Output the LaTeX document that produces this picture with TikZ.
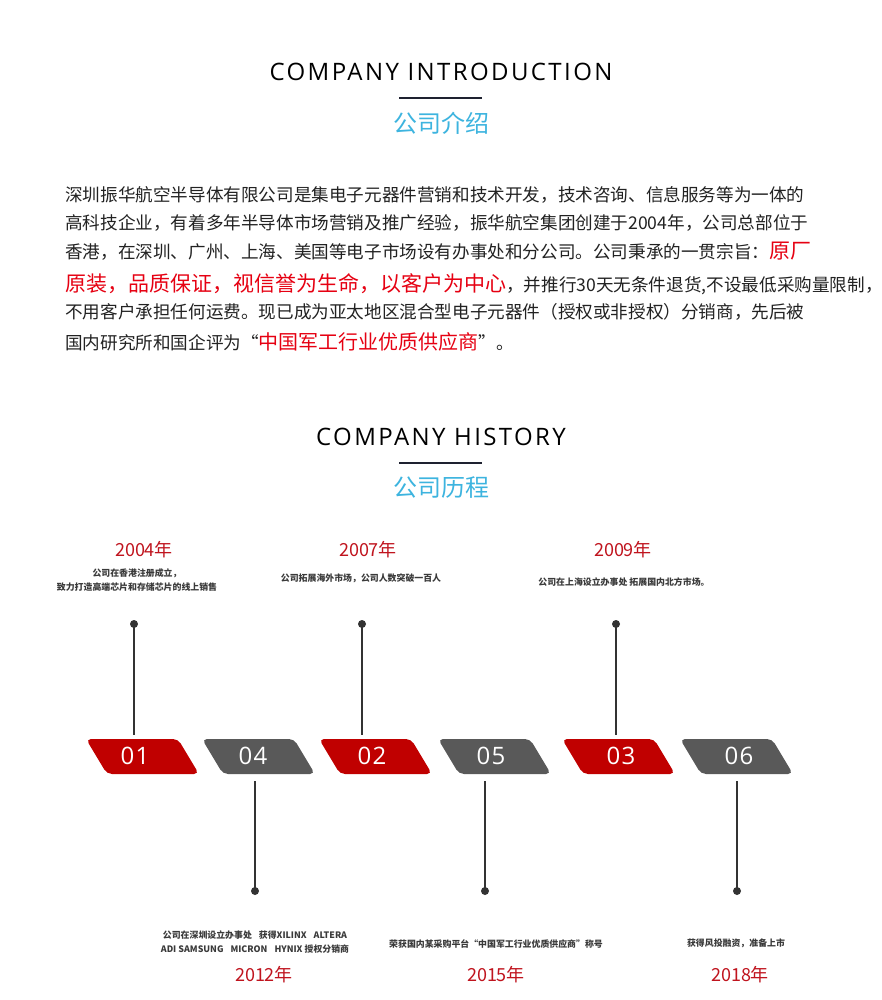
\documentclass[tikz,border=0pt]{standalone}
\usepackage{fontspec}
\setmainfont{Noto Sans CJK SC}
\newfontfamily\osans[LetterSpace=5]{Open Sans}
\newfontfamily\titlefont[LetterSpace=10]{Open Sans}
\definecolor{shred}{HTML}{C00000}
\definecolor{shgray}{HTML}{595959}
\definecolor{yred}{HTML}{C0141E}
\definecolor{pred}{HTML}{E60012}
\definecolor{tcyan}{HTML}{3DB4DF}
\definecolor{txt}{HTML}{222222}
\definecolor{navy}{HTML}{1E2130}
\definecolor{lnk}{HTML}{333333}
\definecolor{small}{HTML}{3A3A3A}
\newcommand{\pr}[2]{\textcolor{pred}{\fontsize{#1}{#1}\selectfont #2}}
\tikzset{
  title/.style={inner sep=0, font=\titlefont\fontsize{24}{24}\selectfont, text=black},
  sub/.style={inner sep=0, font=\fontsize{24}{24}\selectfont, text=tcyan},
  bar/.style={draw=navy, line width=2pt},
  para/.style={inner sep=0, anchor=base west, font=\fontsize{17.6}{20}\selectfont, text=txt},
  yr/.style={inner sep=0, font=\fontsize{18}{18}\selectfont, text=yred},
  note/.style={inner sep=0, font=\bfseries\fontsize{8.9}{14}\selectfont, text=small, align=center},
  num/.style={inner sep=0, font=\osans\fontsize{24}{24}\selectfont, text=white},
  dot/.style={circle, fill=lnk, inner sep=0, minimum size=8pt},
  conn/.style={draw=lnk, line width=1.8pt},
}
\newcommand{\tab}[2]{\fill[#2] (#1,739) [rounded corners=5pt] -- (#1+92,739) -- (#1+113,774) -- (#1+21,774) -- cycle;}
\begin{document}
\begin{tikzpicture}[x=1pt,y=-1pt]
\useasboundingbox (0,0) rectangle (881,1000);
\fill[white] (0,0) rectangle (881,1000);

% Introduction header
\node[title] (t1) at (441,72) {COMPANY INTRODUCTION};
\draw[bar] (399,98) -- (482,98);
\node[sub] (s1) at (441,123) {公司介绍};

% Paragraph
\node[para] (p1) at (65,201.7) {深圳振华航空半导体有限公司是集电子元器件营销和技术开发，技术咨询、信息服务等为一体的};
\node[para] (p2) at (65,229.7) {高科技企业，有着多年半导体市场营销及推广经验，振华航空集团创建于2004年，公司总部位于};
\node[para] (p3) at (65,258.7) {香港，在深圳、广州、上海、美国等电子市场设有办事处和分公司。公司秉承的一贯宗旨：\pr{21}{原厂}};
\node[para] (p4) at (65,291) {\pr{21}{原装，品质保证，视信誉为生命，以客户为中心}，并推行30天无条件退货,不设最低采购量限制，};
\node[para] (p5) at (65,318.7) {不用客户承担任何运费。现已成为亚太地区混合型电子元器件（授权或非授权）分销商，先后被};
\node[para] (p6) at (65,349.6) {国内研究所和国企评为“\pr{20}{中国军工行业优质供应商}”。};

% History header
\node[title] (t2) at (441,437) {COMPANY HISTORY};
\draw[bar] (399,463) -- (482,463);
\node[sub] (s2) at (441,488) {公司历程};

% Top events
\node[yr] (y1) at (144,550) {2004年};
\node[note] (n1) at (137,580) {公司在香港注册成立，\\致力打造高端芯片和存储芯片的线上销售};
\node[yr] (y2) at (368,550) {2007年};
\node[note] (n2) at (361,578) {公司拓展海外市场，公司人数突破一百人};
\node[yr] (y3) at (623,550) {2009年};
\node[note] (n3) at (624,582) {公司在上海设立办事处 拓展国内北方市场。};

% Tabs
\tab{86}{shred}
\tab{202}{shgray}
\tab{319}{shred}
\tab{438}{shgray}
\tab{562}{shred}
\tab{680}{shgray}
\node[num] (k1) at (135,756) {01};
\node[num] (k4) at (253,756) {04};
\node[num] (k2) at (372,756) {02};
\node[num] (k5) at (491,756) {05};
\node[num] (k3) at (621,756) {03};
\node[num] (k6) at (739,756) {06};

% Connectors top
\node[dot] (d1) at (134,624) {};
\node[dot] (d2) at (362,624) {};
\node[dot] (d3) at (616,624) {};
\coordinate (e1) at (134,735);
\coordinate (e2) at (362,735);
\coordinate (e3) at (616,735);
\draw[conn] (d1.center) -- (e1);
\draw[conn] (d2.center) -- (e2);
\draw[conn] (d3.center) -- (e3);

% Connectors bottom
\node[dot] (d4) at (255,891) {};
\node[dot] (d5) at (485,891) {};
\node[dot] (d6) at (737,891) {};
\coordinate (e4) at (255,781);
\coordinate (e5) at (485,781);
\coordinate (e6) at (737,781);
\draw[conn] (e4) -- (d4.center);
\draw[conn] (e5) -- (d5.center);
\draw[conn] (e6) -- (d6.center);

% Bottom events
\node[note] (n4) at (255,942) {公司在深圳设立办事处\hspace{7pt}获得XILINX\hspace{7pt}ALTERA\\ADI SAMSUNG\hspace{7pt}MICRON\hspace{7pt}HYNIX 授权分销商};
\node[yr] (y4) at (264,975) {2012年};
\node[note] (n5) at (496,944) {荣获国内某采购平台“中国军工行业优质供应商”称号};
\node[yr] (y5) at (496,975) {2015年};
\node[note] (n6) at (736,943) {获得风投融资，准备上市};
\node[yr] (y6) at (740,975) {2018年};
\end{tikzpicture}
\end{document}
